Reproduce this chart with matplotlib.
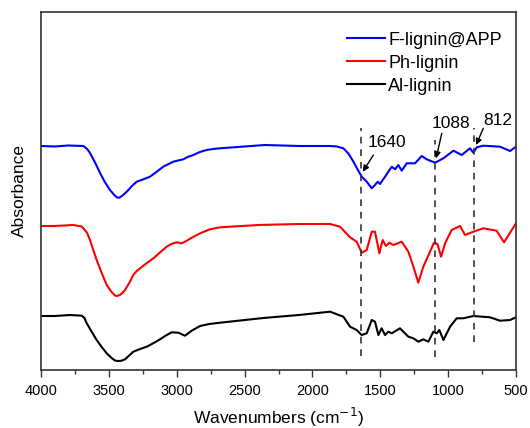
import matplotlib
matplotlib.use("Agg")
import matplotlib.pyplot as plt
import numpy as np

plt.rcParams['font.family'] = ['Liberation Sans', 'DejaVu Sans']

# FTIR spectra (wavenumber in cm-1, offset absorbance in a.u.)
wn_app = [4000, 3900, 3800, 3688, 3660, 3639, 3600, 3565, 3530, 3492, 3460, 3440, 3423,
          3400, 3368, 3330, 3295, 3250, 3197, 3150, 3099, 3060, 3025, 2990, 2951, 2920,
          2878, 2830, 2779, 2730, 2681, 2500, 2350, 2100, 1870, 1820, 1772, 1735, 1698,
          1665, 1637, 1600, 1563, 1539, 1519, 1502, 1465, 1416, 1391, 1367, 1342, 1305,
          1244, 1195, 1158, 1096, 1035, 961, 900, 839, 814, 789, 741, 618, 544, 500]
abs_app = [224, 223.5, 224.5, 224, 221, 217, 207, 197, 188, 180, 175, 172.5, 172.3,
           174.5, 178.3, 184, 188.3, 190.5, 193.3, 198, 203.3, 206, 208.3, 209.5, 210.7, 213,
           215, 218, 220, 221, 221.7, 223.5, 225, 224, 224, 223.5, 221.7, 216.5, 208.3,
           200, 193.3, 188.3, 181.7, 185, 188.3, 186, 193.3, 203.3, 200.7, 205, 199.3, 206.7,
           206.7, 214, 210.7, 207.3, 211.7, 219.3, 215, 221.7, 217.3, 222.7, 224.3, 223.3, 219, 223.3]

wn_ph = [4000, 3900, 3762, 3700, 3688, 3660, 3639, 3615, 3590, 3550, 3516, 3480, 3455,
         3442, 3420, 3400, 3381, 3350, 3320, 3295, 3270, 3220, 3172, 3120, 3074, 3040,
         3000, 2963, 2926, 2880, 2828, 2760, 2681, 2400, 2100, 1870, 1797, 1723, 1674,
         1637, 1600, 1563, 1539, 1507, 1483, 1458, 1434, 1404, 1342, 1293, 1256, 1220,
         1183, 1134, 1104, 1079, 1052, 1023, 974, 912, 876, 814, 741, 643, 588, 544, 500]
abs_ph = [144, 144, 145, 143.5, 141.7, 137, 130, 120, 110, 96, 85, 78, 74.5,
          74, 75, 77, 80, 87, 95, 99, 101.7, 107, 111.7, 118, 123.3, 126,
          127.7, 126.7, 129.3, 133, 136.7, 140.5, 142.7, 145, 146, 146, 143.3, 132.7, 128.3,
          117.3, 120, 138.3, 138.3, 116.7, 130, 124, 127.3, 125, 128.3, 118.3, 103.3, 87.3,
          103.3, 118.3, 127.3, 126, 113.3, 126.7, 140, 144, 135, 138.3, 141.7, 139.3, 127.7, 137.3, 146.7]

wn_al = [4000, 3900, 3786, 3700, 3680, 3663, 3630, 3590, 3550, 3516, 3480, 3455, 3438,
         3410, 3381, 3350, 3320, 3270, 3221, 3170, 3123, 3080, 3037, 2988, 2939, 2890,
         2828, 2760, 2681, 2362, 2100, 1870, 1772, 1723, 1674, 1637, 1600, 1563, 1539,
         1514, 1490, 1465, 1441, 1416, 1355, 1293, 1256, 1220, 1183, 1146, 1109, 1084,
         1065, 1035, 986, 937, 888, 814, 691, 618, 544, 500]
abs_al = [54, 54, 55, 54.3, 52, 46.7, 39, 30, 22.5, 16.7, 12, 9.5, 9,
          9.2, 10.7, 14.5, 18.3, 21, 23.3, 27, 30.7, 34.5, 37.7, 37.3, 34.3, 39.3,
          44, 46, 47.3, 52, 55, 58.3, 53.3, 43.3, 40, 35, 36.7, 50, 48.3,
          35, 41.7, 35, 38.3, 36.7, 41.7, 33.3, 31.7, 28.3, 30.7, 28.3, 38.3, 36.7,
          40, 30, 43.3, 51.7, 51.7, 54, 52.7, 49.3, 50, 52.7]

labels = ['F-lignin@APP', 'Ph-lignin', 'Al-lignin']
colors = ['#0000ff', '#ff0000', '#000000']

# marked bands
band_labels = ['1640', '1088', '812']
band_pos = [1640, 1100, 812]
band_low = [14, 13, 28]
band_high = [242, 230, 242]

fig = plt.figure(figsize=(5.30, 4.28), dpi=100)
ax = fig.add_axes([0.0774, 0.1355, 0.8962, 0.8365])

for wn, a, lab, c in zip([wn_app, wn_ph, wn_al], [abs_app, abs_ph, abs_al], labels, colors):
    ax.plot(wn, a, color=c, lw=1.5, label=lab, solid_joinstyle='round')

for x, lo, hi in zip(band_pos, band_low, band_high):
    ax.plot([x, x], [lo, hi], color='#333333', lw=1.2, ls=(0, (4, 3.5)))

# arrows + labels
arrows = [((1551, 215), (1629, 198.3), (1590, 227)),
          ((1047, 236.7), (1089, 211.7), (1121, 246.7)),
          ((741, 241.7), (794, 225), (743, 249.3))]
for txt, (start, tip, tpos) in zip(band_labels, arrows):
    ax.annotate('', xy=tip, xytext=start,
                arrowprops=dict(arrowstyle='-|>', color='black', lw=1.0,
                                mutation_scale=9, shrinkA=0, shrinkB=0))
    ax.text(tpos[0], tpos[1], txt, fontsize=12.5, ha='left', va='center')

ax.set_xlim(4000, 500)
ax.set_ylim(0, 358)
ax.set_xticks(np.arange(4000, 499, -500))
ax.set_xticks(np.arange(3750, 500, -500), minor=True)
ax.set_yticks([])
ax.tick_params(axis='x', which='major', length=5, width=1, labelsize=10.5, pad=5,
               color='#333333')
ax.tick_params(axis='x', which='minor', length=3, width=1, color='#333333')
for s in ax.spines.values():
    s.set_color('#333333')
    s.set_linewidth(1.2)

ax.set_xlabel('Wavenumbers (cm$^{-1}$)', fontsize=12.5, labelpad=6)
ax.set_ylabel('Absorbance', fontsize=12.5, labelpad=10)

ax.legend(loc='upper left', bbox_to_anchor=(0.644, 0.945), frameon=False, fontsize=13,
          handlelength=2.1, handletextpad=0.2, labelspacing=0.33, borderpad=0, borderaxespad=0)

fig.savefig('out.png', dpi=100)
